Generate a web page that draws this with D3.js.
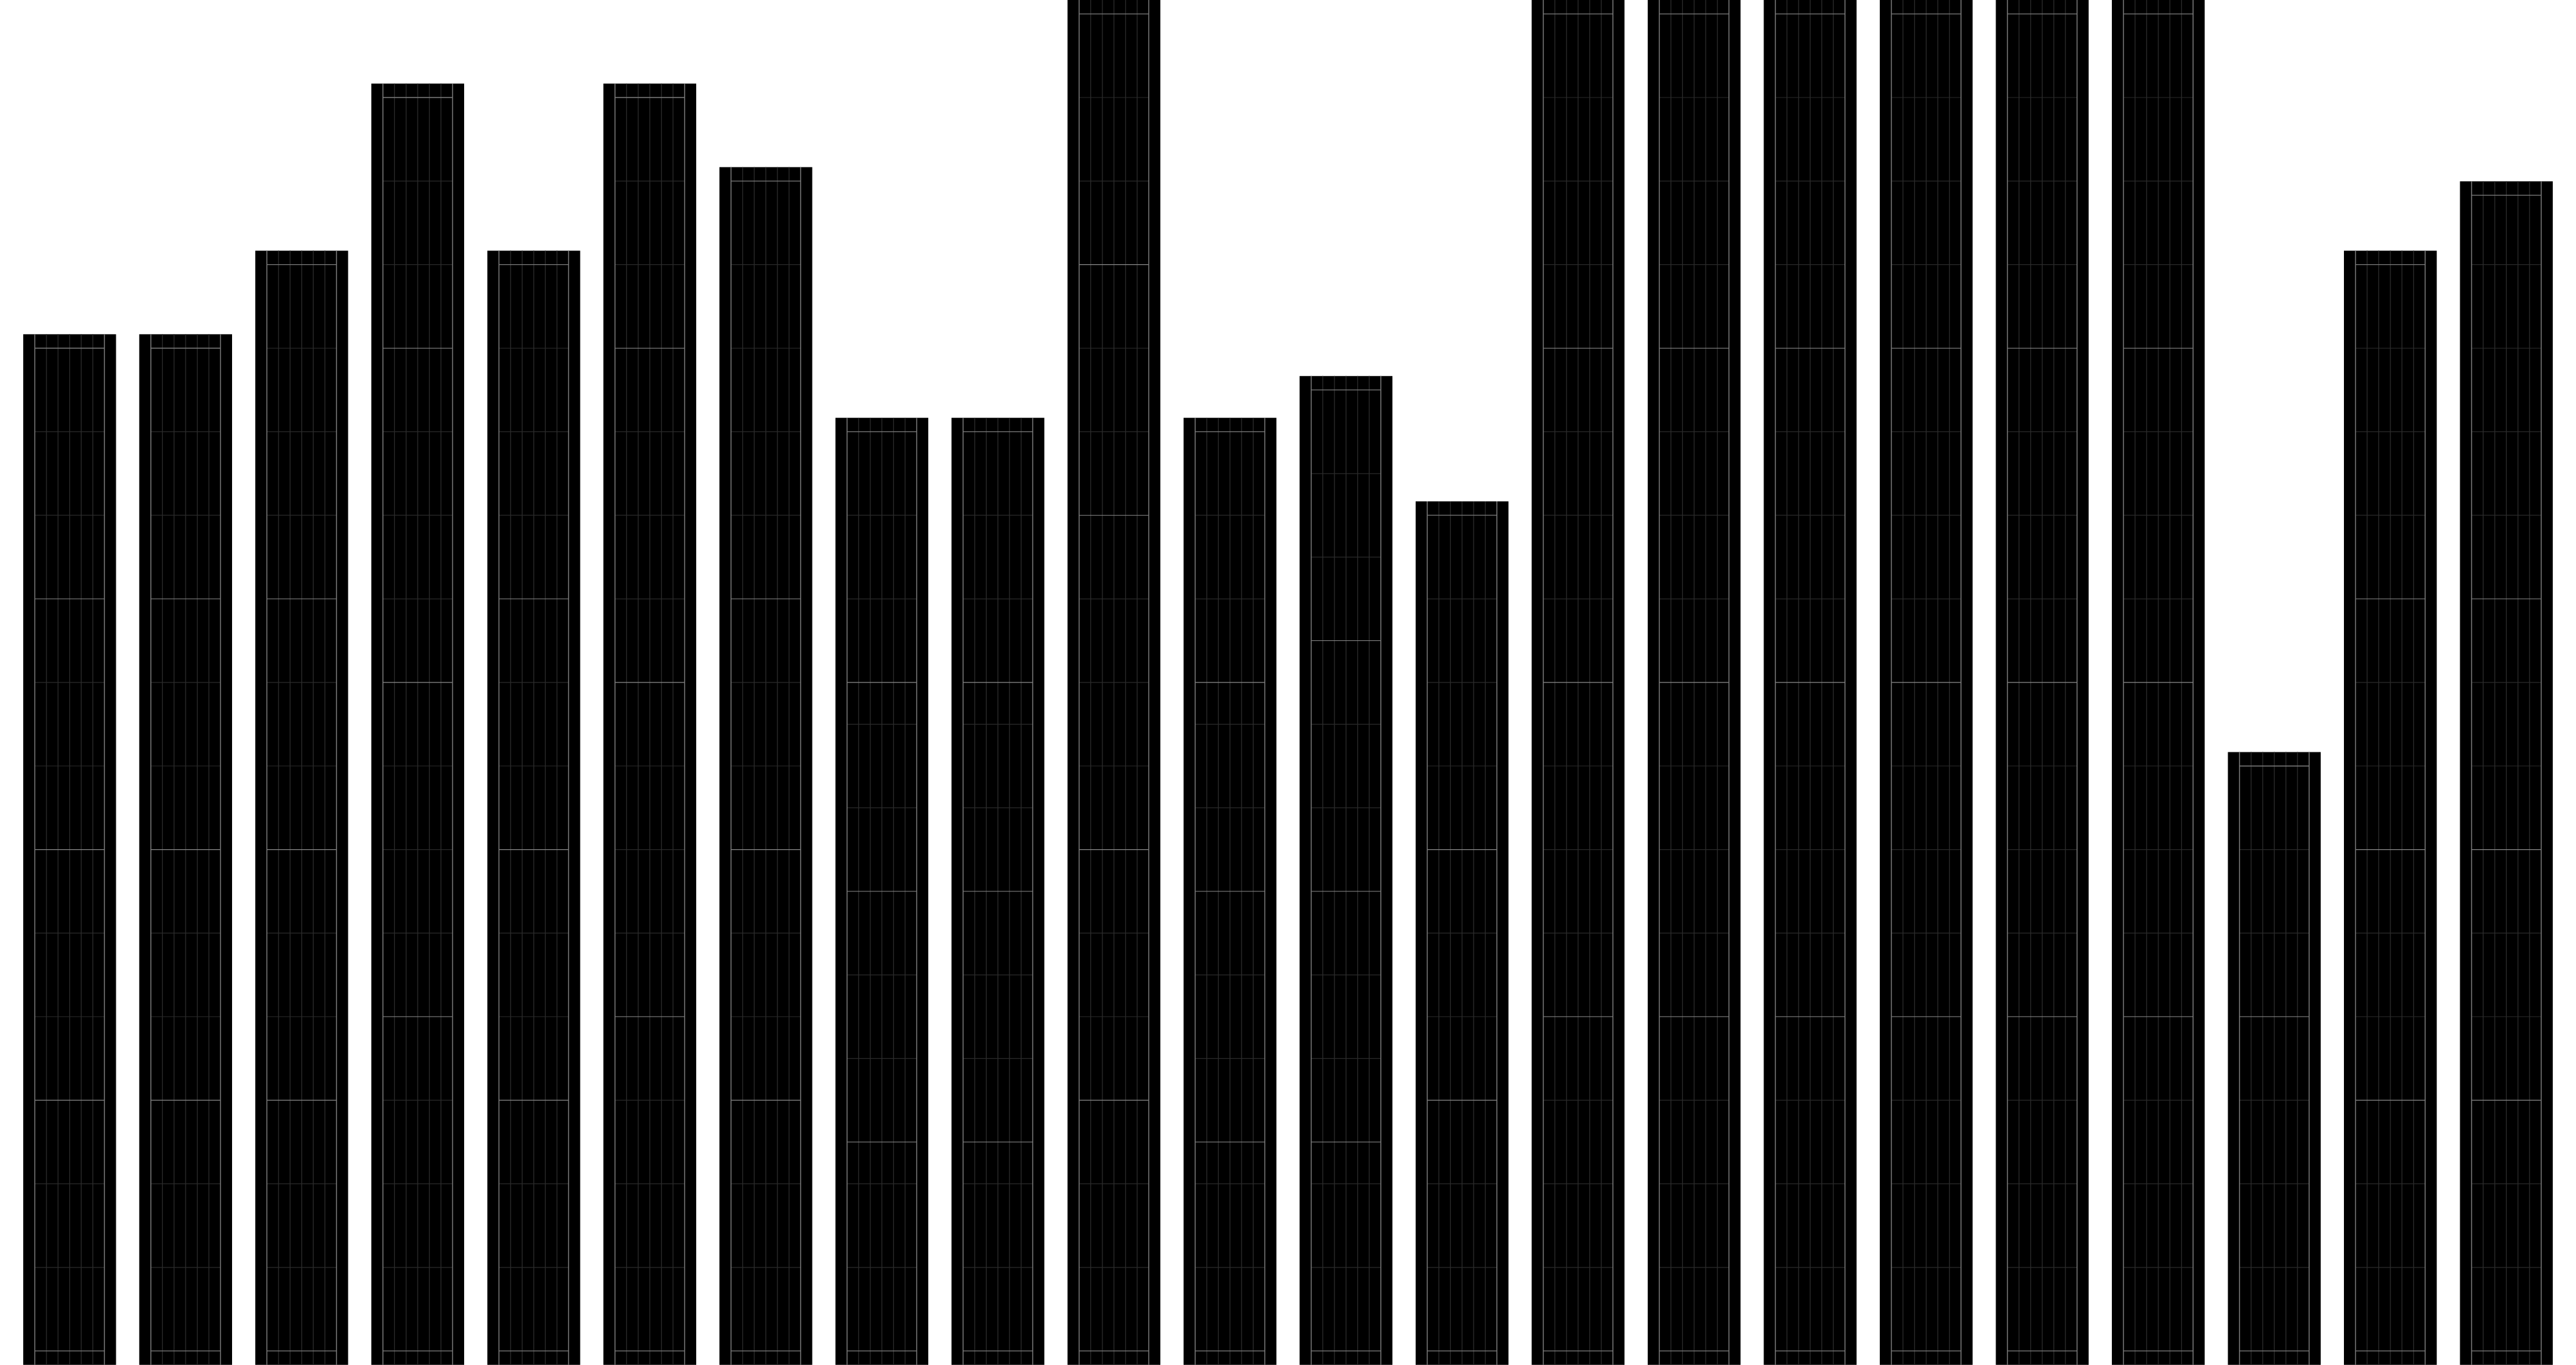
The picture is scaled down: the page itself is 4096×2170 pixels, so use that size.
<!DOCTYPE html>
<html><head><meta charset="utf-8">
<script src="https://cdn.jsdelivr.net/npm/d3@7"></script>
<style>html,body{margin:0;padding:0;background:#fff;overflow:hidden}</style>
</head><body>
<script>
// ---- data ----
const categories = ["1","2","3","4","5","6","7","8","9","10","11","12","13","14","15","16","17","18","19","20","21","22"];
const values = [12,12,13,15,13,15,14,11,11,16,11,11.5,10,16,16,16,16,16,16,7,13,13.83];
const majorTicks = [
  [3,6,9],[3,6,9],[3,6,9],[4,8,12],[3,6,9],[4,8,12],[3,6,9],
  [2.5,5.5,8],[2.5,5.5,8],[3,6,10,13],[2.5,5.5,8],[2.5,5.5,8.5],[3,6],
  [4,8,12],[4,8,12],[4,8,12],[4,8,12],[4,8,12],[4,8,12],
  [4],[3,6,9],[3,6,9]
];
const columnTicks = [0,1,2,3,4,5,6];

// ---- layout (reference pixels, scaled to window) ----
const W = 4440, H = 2352, S = 4096 / 4440;
const padY = 24, padX = 20;

const svg = d3.select("body").append("svg")
  .attr("width", 4096).attr("height", 2170)
  .style("display","block").style("background","#fff");
const g = svg.append("g").attr("transform", `scale(${S})`);

const x = d3.scaleBand().domain(categories).range([20, W - 20])
  .paddingInner(0.2).paddingOuter(0.1);
const y = d3.scaleLinear().domain([0, 16]).range([H - padY, padY]);

const data = categories.map((c, i) => {
  const v = values[i];
  const bounds = [0, ...majorTicks[i], v];
  const minors = [];
  for (let k = 0; k < bounds.length - 1; k++) {
    for (let t = bounds[k] + 1; t < bounds[k + 1] - 1e-6; t += 1) minors.push(t);
  }
  return {c, v, majors: majorTicks[i], minors};
});

const bar = g.selectAll("g.bar").data(data).join("g").attr("class", "bar");

bar.append("rect")
  .attr("x", d => x(d.c))
  .attr("width", x.bandwidth())
  .attr("y", d => y(d.v) - padY)
  .attr("height", d => y(0) + padY - (y(d.v) - padY))
  .attr("fill", "#000");

bar.each(function(d) {
  const sel = d3.select(this);
  const col = d3.scaleLinear().domain([0, 6])
    .range([x(d.c) + padX, x(d.c) + x.bandwidth() - padX]);
  const top = y(d.v) - padY, bottom = y(0) + padY;
  // minor horizontal lines
  sel.selectAll("line.minor").data(d.minors).join("line").attr("class","minor")
    .attr("x1", col(0)).attr("x2", col(6))
    .attr("y1", t => y(t)).attr("y2", t => y(t))
    .attr("stroke", "#2a2a2a").attr("stroke-width", 1.3);
  // inner vertical lines
  sel.selectAll("line.vcol").data(columnTicks.slice(1, -1)).join("line").attr("class","vcol")
    .attr("x1", t => col(t)).attr("x2", t => col(t))
    .attr("y1", top).attr("y2", bottom)
    .attr("stroke", "#2c2c2c").attr("stroke-width", 1.4);
  // major horizontal lines
  sel.selectAll("line.major").data(d.majors).join("line").attr("class","major")
    .attr("x1", col(0)).attr("x2", col(6))
    .attr("y1", t => y(t)).attr("y2", t => y(t))
    .attr("stroke", "#8a8a8a").attr("stroke-width", 1.2);
  // frame top / bottom
  sel.selectAll("line.frameh").data([0, d.v]).join("line").attr("class","frameh")
    .attr("x1", col(0)).attr("x2", col(6))
    .attr("y1", t => y(t)).attr("y2", t => y(t))
    .attr("stroke", "#7c7c7c").attr("stroke-width", 1.4);
  // frame sides
  sel.selectAll("line.framev").data([0, 6]).join("line").attr("class","framev")
    .attr("x1", t => col(t)).attr("x2", t => col(t))
    .attr("y1", top).attr("y2", bottom)
    .attr("stroke", "#7c7c7c").attr("stroke-width", 1.6);
});
</script>
</body></html>
